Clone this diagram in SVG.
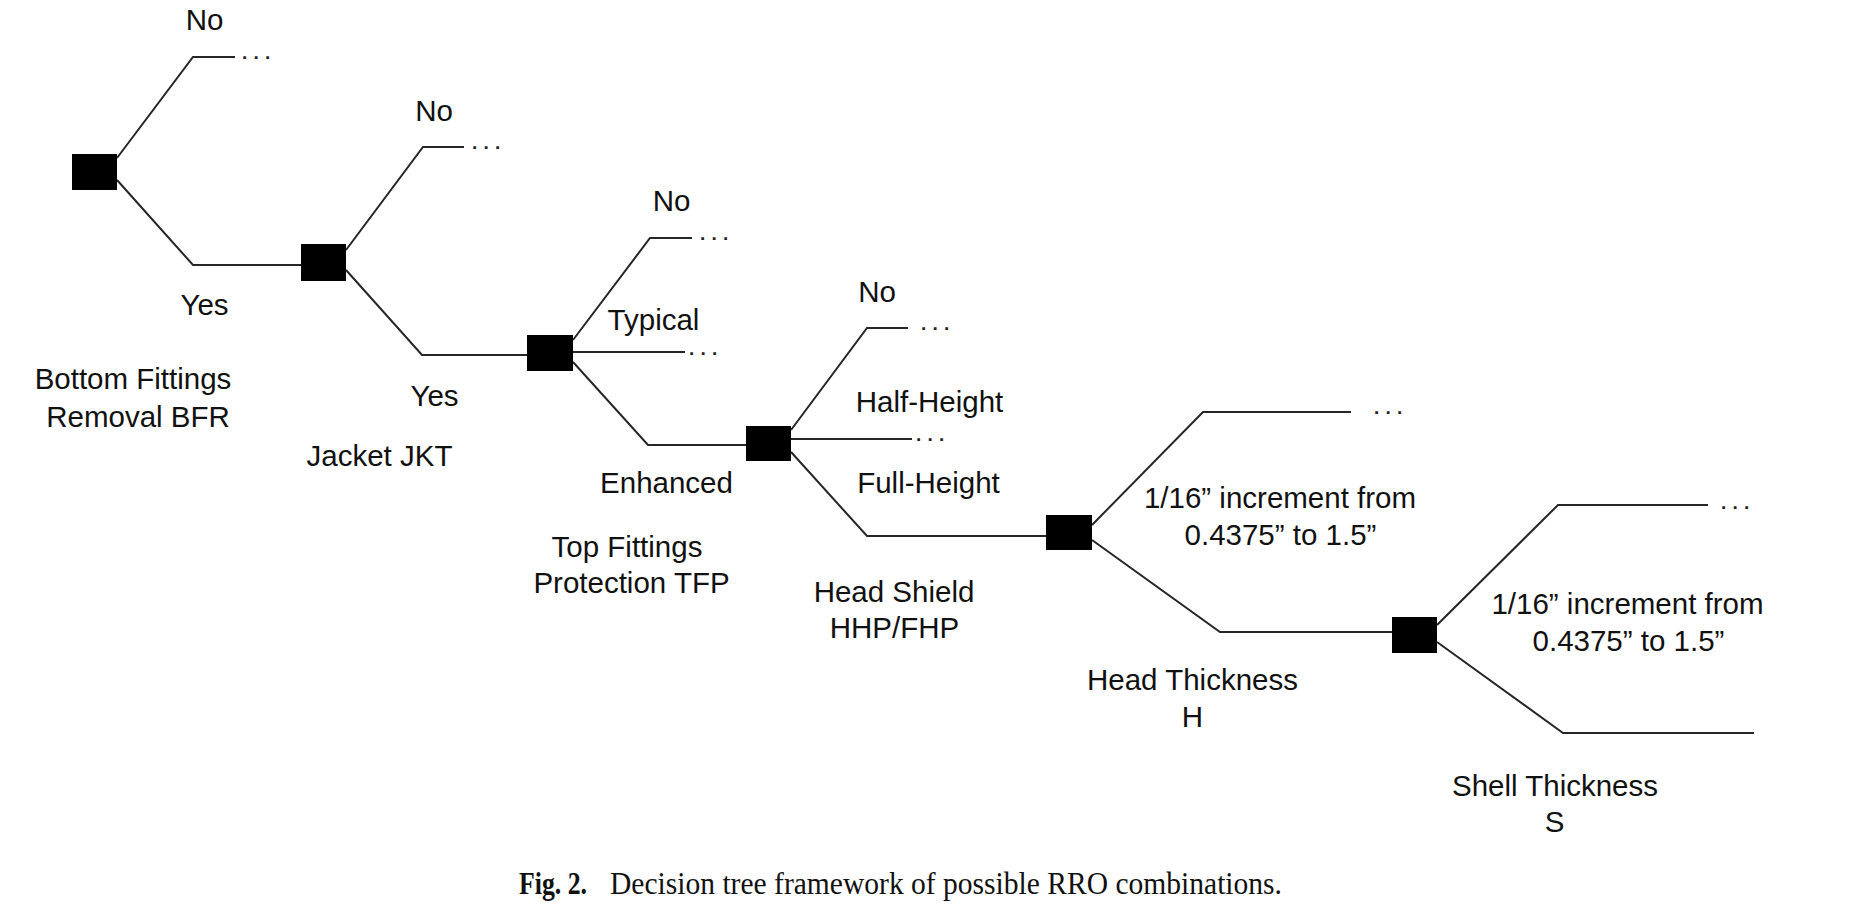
<svg xmlns="http://www.w3.org/2000/svg" width="1850" height="922" viewBox="0 0 1850 922">
<style>
.bg{fill:#ffffff}
.sq{fill:#000000}
.ln{fill:none;stroke:#262626;stroke-width:2;stroke-linejoin:miter}
.t{font-family:"Liberation Sans",Arial,sans-serif;font-size:29.5px;fill:#111111;text-anchor:middle}
.dots{font-family:"Liberation Sans",Arial,sans-serif;font-size:19px;font-weight:bold;letter-spacing:6.2px;fill:#222222}
.cap{font-family:"Liberation Serif","Times New Roman",serif;font-size:32px;fill:#111111}
</style>
<rect class="bg" x="0" y="0" width="1850" height="922"/>

<g id="connectors">
  <polyline class="ln" points="117,158 193,57 235,57"/>
  <polyline class="ln" points="117,180 193,265 301,265"/>
  <polyline class="ln" points="346,250 423,147 464,147"/>
  <polyline class="ln" points="346,270 422,355 527,355"/>
  <polyline class="ln" points="573,340 650,238 692,238"/>
  <polyline class="ln" points="573,352 685,352"/>
  <polyline class="ln" points="573,362 648,445 746,445"/>
  <polyline class="ln" points="791,430 867,328 908,328"/>
  <polyline class="ln" points="791,439 912,439"/>
  <polyline class="ln" points="791,452 867,536 1046,536"/>
  <polyline class="ln" points="1092,525 1203,412 1351,412"/>
  <polyline class="ln" points="1092,540 1220,632 1392,632"/>
  <polyline class="ln" points="1437,625 1558,505 1708,505"/>
  <polyline class="ln" points="1437,642 1563,733 1754,733"/>
</g>

<g id="branch-labels">
  <text class="t" x="204.5" y="30">No</text>
  <text class="t" x="204.5" y="315">Yes</text>
  <text class="t" x="434" y="121">No</text>
  <text class="t" x="434.5" y="406">Yes</text>
  <text class="t" x="671.5" y="211">No</text>
  <text class="t" x="653.5" y="330">Typical</text>
  <text class="t" x="666.5" y="493">Enhanced</text>
  <text class="t" x="877" y="302">No</text>
  <text class="t" x="929.5" y="412">Half-Height</text>
  <text class="t" x="928.5" y="493">Full-Height</text>
  <text class="t" x="1280" y="508">1/16” increment from</text>
  <text class="t" x="1280.5" y="545">0.4375” to 1.5”</text>
  <text class="t" x="1627.5" y="614">1/16” increment from</text>
  <text class="t" x="1628.5" y="651">0.4375” to 1.5”</text>
  <text class="dots" x="242" y="59">...</text>
  <text class="dots" x="472" y="149">...</text>
  <text class="dots" x="700" y="240">...</text>
  <text class="dots" x="689" y="354.5">...</text>
  <text class="dots" x="921" y="330">...</text>
  <text class="dots" x="916" y="441">...</text>
  <text class="dots" x="1374" y="414">...</text>
  <text class="dots" x="1721" y="509">...</text>
</g>

<g id="node-bfr">
  <rect class="sq" x="72" y="154" width="45" height="36"/>
  <text class="t" x="133" y="389">Bottom Fittings</text>
  <text class="t" x="138" y="427">Removal BFR</text>
</g>
<g id="node-jkt">
  <rect class="sq" x="301" y="244" width="45" height="37"/>
  <text class="t" x="379.5" y="466">Jacket JKT</text>
</g>
<g id="node-tfp">
  <rect class="sq" x="527" y="335" width="46" height="36"/>
  <text class="t" x="627" y="557">Top Fittings</text>
  <text class="t" x="631.5" y="593">Protection TFP</text>
</g>
<g id="node-headshield">
  <rect class="sq" x="746" y="426" width="45" height="35"/>
  <text class="t" x="894" y="602">Head Shield</text>
  <text class="t" x="894.5" y="638">HHP/FHP</text>
</g>
<g id="node-head-thickness">
  <rect class="sq" x="1046" y="515" width="46" height="35"/>
  <text class="t" x="1192.5" y="690">Head Thickness</text>
  <text class="t" x="1192.5" y="727">H</text>
</g>
<g id="node-shell-thickness">
  <rect class="sq" x="1392" y="617" width="45" height="36"/>
  <text class="t" x="1555" y="796">Shell Thickness</text>
  <text class="t" x="1554.5" y="832">S</text>
</g>

<g id="caption">
  <text class="cap" x="519" y="894" font-weight="bold" textLength="68" lengthAdjust="spacingAndGlyphs">Fig. 2.</text>
  <text class="cap" x="610" y="894" textLength="672" lengthAdjust="spacingAndGlyphs">Decision tree framework of possible RRO combinations.</text>
</g>
</svg>
